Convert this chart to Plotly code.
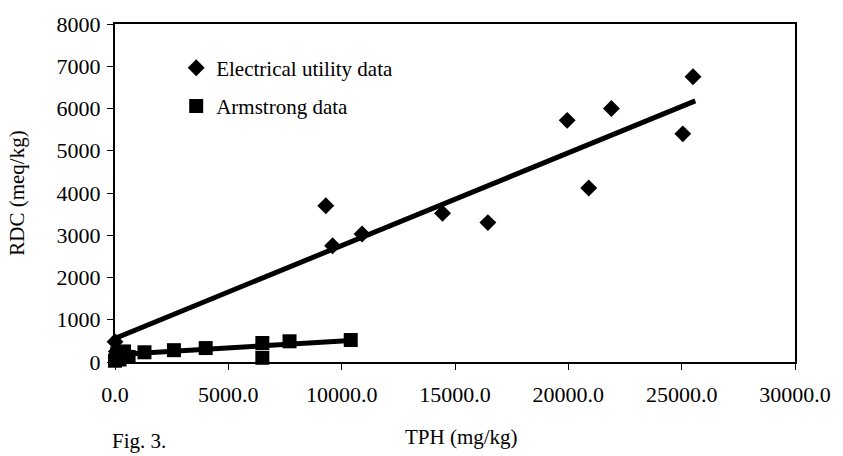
import plotly.graph_objects as go

# Data
elec_x = [0, 60, 150, 9300, 9600, 10900, 14450, 16450, 19950, 20900, 21900, 25050, 25500]
elec_y = [480, 250, 150, 3700, 2750, 3030, 3520, 3300, 5720, 4120, 6000, 5400, 6750]

arm_x = [0, 50, 100, 200, 300, 400, 600, 1300, 2600, 4000, 6500, 6500, 7700, 10400]
arm_y = [30, 100, 200, 60, 150, 250, 120, 230, 280, 330, 450, 100, 490, 520]

elec_trend_x = [0, 25600]
elec_trend_y = [560, 6180]
arm_trend_x = [0, 10400]
arm_trend_y = [170, 510]

x_ticks = [0, 5000, 10000, 15000, 20000, 25000, 30000]
y_ticks = [0, 1000, 2000, 3000, 4000, 5000, 6000, 7000, 8000]

FONT = "Liberation Serif, Times New Roman, serif"
FS = 21

fig = go.Figure()

fig.add_trace(go.Scatter(
    x=elec_trend_x, y=elec_trend_y, mode="lines",
    line=dict(color="black", width=5), showlegend=False, cliponaxis=False))
fig.add_trace(go.Scatter(
    x=arm_trend_x, y=arm_trend_y, mode="lines",
    line=dict(color="black", width=5), showlegend=False, cliponaxis=False))

fig.add_trace(go.Scatter(
    x=elec_x, y=elec_y, mode="markers", name="Electrical utility data",
    marker=dict(symbol="diamond", size=13, color="black"),
    legendgroup="a", cliponaxis=False))
fig.add_trace(go.Scatter(
    x=arm_x, y=arm_y, mode="markers", name="Armstrong data",
    marker=dict(symbol="square", size=14, color="black"),
    legendgroup="b", cliponaxis=False))

axis_common = dict(
    showgrid=False, zeroline=False, showline=True, linecolor="black",
    linewidth=2, mirror=True, ticks="outside", ticklen=6, tickwidth=1,
    tickcolor="black",
    tickfont=dict(family=FONT, size=22, color="black"),
)

fig.update_xaxes(
    range=[0, 30000], tickvals=x_ticks, tickformat=".1f",
    ticklabelstandoff=6,
    **axis_common)
fig.update_yaxes(
    range=[0, 8000], tickvals=y_ticks, tickformat="d",
    ticklabelstandoff=2,
    title=dict(text="RDC (meq/kg)", font=dict(family=FONT, size=FS, color="black"), standoff=26),
    **axis_common)

# x-axis title (placed as in the reference, slightly right of centre)
fig.add_annotation(
    text="TPH (mg/kg)", xref="paper", yref="paper", x=0.51, y=-0.222,
    xanchor="center", yanchor="middle", showarrow=False,
    font=dict(family=FONT, size=FS, color="black"))

fig.add_annotation(
    text="Fig. 3.", xref="paper", yref="paper", x=-0.008, y=-0.235,
    xanchor="left", yanchor="middle", showarrow=False,
    font=dict(family=FONT, size=FS, color="black"))

fig.update_layout(
    width=843, height=456,
    margin=dict(l=115, r=39, t=20, b=94),
    paper_bgcolor="white", plot_bgcolor="white",
    legend=dict(
        x=0.09, y=0.93, xanchor="left", yanchor="top",
        bgcolor="rgba(0,0,0,0)", traceorder="grouped", tracegroupgap=8,
        font=dict(family=FONT, size=FS, color="black"),
    ),
    font=dict(family=FONT, size=FS, color="black"),
)

fig.write_html("out.html")
